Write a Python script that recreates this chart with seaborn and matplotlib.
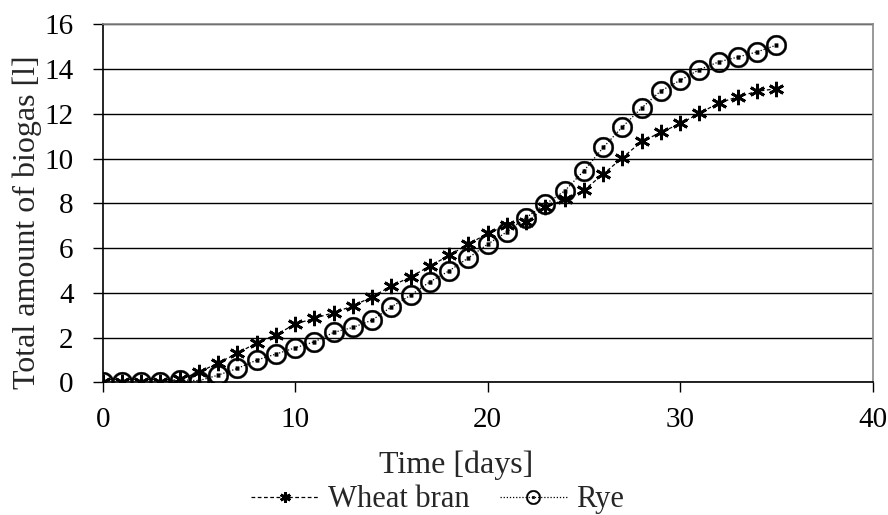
import matplotlib.pyplot as plt
import seaborn as sns

# Data
days = list(range(0, 36))
wheat_bran = [0, 0, 0, 0, 0.15, 0.45, 0.88, 1.30, 1.78, 2.13,
              2.61, 2.87, 3.12, 3.42, 3.83, 4.31, 4.72, 5.20, 5.68, 6.18,
              6.66, 7.03, 7.18, 7.82, 8.18, 8.59, 9.31, 10.04, 10.77, 11.17,
              11.57, 12.02, 12.49, 12.76, 13.01, 13.12]
rye = [0, 0, 0, 0, 0.12, 0.08, 0.33, 0.63, 1.00, 1.27,
       1.55, 1.82, 2.24, 2.46, 2.79, 3.38, 3.90, 4.50, 4.99, 5.57,
       6.18, 6.73, 7.37, 7.97, 8.56, 9.46, 10.50, 11.42, 12.27, 13.03,
       13.50, 13.98, 14.32, 14.54, 14.77, 15.07]

sns.set_style("white")
plt.rcParams["font.family"] = ["Liberation Serif", "DejaVu Serif"]

fig = plt.figure(figsize=(8.88, 5.15), dpi=100)
ax = fig.add_axes([0.1157, 0.2573, 0.8671, 0.6955])

ax.yaxis.grid(True, color="black", linewidth=1.0)
ax.set_axisbelow(True)

# Wheat bran: dashed line with asterisk markers
sns.lineplot(x=days, y=wheat_bran, ax=ax, color="black", linewidth=0.9,
             linestyle=(0, (3, 2)), marker=(6, 2, 0), markersize=11,
             markeredgewidth=2.0, markeredgecolor="black",
             label="Wheat bran")
# Rye: dotted line with circled-dot markers
sns.lineplot(x=days, y=rye, ax=ax, color="black", linewidth=0.9,
             linestyle=(0, (1, 1.5)), marker=r"$\odot$", markersize=15,
             markeredgewidth=0.25, markeredgecolor="black",
             label="Rye")

ax.set_xlim(0, 40)
ax.set_ylim(0, 16)
ax.set_xticks(range(0, 41, 10))
ax.set_yticks(range(0, 17, 2))

for side in ["top", "right"]:
    ax.spines[side].set_color("#888888")
    ax.spines[side].set_linewidth(1.2)
for side in ["left", "bottom"]:
    ax.spines[side].set_color("black")
    ax.spines[side].set_linewidth(1.2)

ax.tick_params(axis="both", direction="out", length=7, width=1.0,
               colors="black", labelsize=21, bottom=True, left=True)
ax.tick_params(axis="x", pad=11)
ax.tick_params(axis="y", pad=14)

ax.set_xlabel("Time [days]", fontsize=23)
ax.set_ylabel("Total amount of biogas [l]", fontsize=23)
ax.xaxis.set_label_coords(0.459, -0.19)
ax.yaxis.set_label_coords(-0.079, 0.448)

handles, labels = ax.get_legend_handles_labels()
ax.legend(handles, labels, loc="upper center", bbox_to_anchor=(0.435, -0.253),
          ncol=2, frameon=False, fontsize=22, handlelength=2.2,
          markerscale=0.7, columnspacing=1.0, handletextpad=0.3,
          borderaxespad=0)

plt.savefig("out.png", dpi=100)
plt.close()
